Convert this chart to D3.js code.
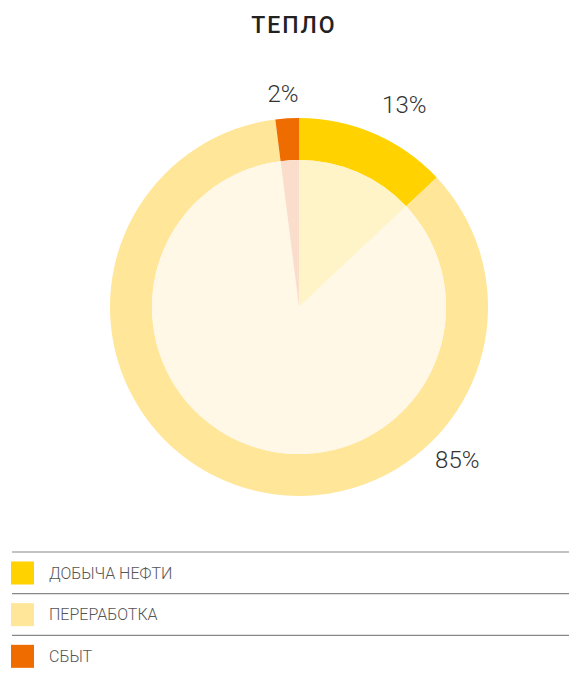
<!DOCTYPE html>
<html>
<head>
<meta charset="utf-8">
<script src="https://cdn.jsdelivr.net/npm/d3@7"></script>
<style>
  body { margin: 0; background: #fff; }
  text { font-family: Roboto, "Noto Sans", sans-serif; }
</style>
</head>
<body>
<svg width="569" height="674"></svg>
<script>
const svg = d3.select("svg");
const width = +svg.attr("width");

// data
const categories = ["ДОБЫЧА НЕФТИ", "ПЕРЕРАБОТКА", "СБЫТ"];
const values = [13, 85, 2];
const colors = ["#FFD200", "#FFE699", "#EF6C00"];
const innerColors = ["#FFF4C8", "#FFF8E6", "#FBDDCB"];

// label placement (angle in degrees from top, radius)
const labelPos = [[27.5, 228], [134, 220], [-4.3, 214]];

const cx = 299, cy = 307;
const outerR = 189, ringR = 147;

//====== Title ======
svg.append("text")
    .attr("x", 294)
    .attr("y", 33)
    .attr("text-anchor", "middle")
    .attr("font-size", 23)
    .attr("font-weight", 500)
    .attr("letter-spacing", 2)
    .attr("fill", "#222")
    .text("ТЕПЛО");

//====== Pie ======
const pie = d3.pie().sort(null).value(d => d);
const arcs = pie(values);

const g = svg.append("g").attr("transform", `translate(${cx},${cy})`);

g.selectAll("path.outer")
    .data(arcs)
    .enter().append("path")
        .attr("class", "outer")
        .attr("d", d3.arc().innerRadius(ringR).outerRadius(outerR))
        .attr("fill", (d, i) => colors[i]);

g.selectAll("path.inner")
    .data(arcs)
    .enter().append("path")
        .attr("class", "inner")
        .attr("d", d3.arc().innerRadius(0).outerRadius(ringR))
        .attr("fill", (d, i) => innerColors[i]);

g.selectAll("text.lbl")
    .data(arcs)
    .enter().append("text")
        .attr("class", "lbl")
        .attr("x", (d, i) => labelPos[i][1] * Math.sin(labelPos[i][0] * Math.PI / 180))
        .attr("y", (d, i) => -labelPos[i][1] * Math.cos(labelPos[i][0] * Math.PI / 180) + 8.5)
        .attr("text-anchor", "middle")
        .attr("font-size", 24)
        .attr("font-weight", 300)
        .attr("fill", "#333")
        .text(d => d.data + "%");

//====== Legend ======
const legend = svg.append("g");
const y = d3.scaleBand().domain(categories).range([552, 677]);

const item = legend.selectAll("g")
    .data(categories)
    .enter().append("g")
        .attr("transform", d => `translate(0,${y(d)})`);

item.append("line")
    .attr("x1", 12).attr("x2", width)
    .attr("y1", 0).attr("y2", 0)
    .attr("stroke", "#888")
    .attr("stroke-width", 1.2);

item.append("rect")
    .attr("x", 11).attr("y", 9.5)
    .attr("width", 23).attr("height", 23)
    .attr("fill", (d, i) => colors[i]);

item.append("text")
    .attr("x", 49).attr("y", 26.5)
    .attr("font-size", 16)
    .attr("font-weight", 300)
    .attr("fill", "#555")
    .text(d => d);
</script>
</body>
</html>
